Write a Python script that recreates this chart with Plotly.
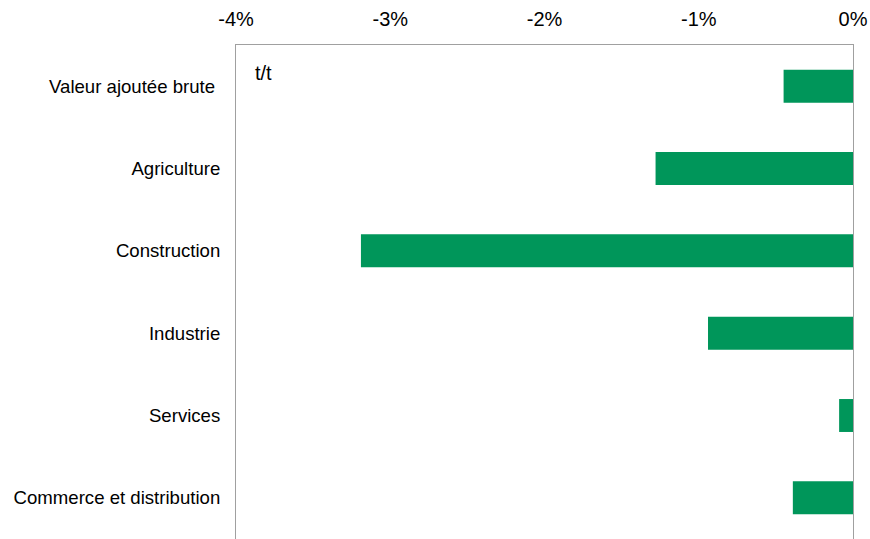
import plotly.graph_objects as go

categories = ["Valeur ajoutée brute ", "Agriculture", "Construction", "Industrie", "Services", "Commerce et distribution"]
values = [-0.45, -1.28, -3.19, -0.94, -0.09, -0.39]
tick_vals = [-4, -3, -2, -1, 0]
tick_text = ["-4%", "-3%", "-2%", "-1%", "0%"]

fig = go.Figure(go.Bar(
    y=categories, x=values, orientation="h",
    marker=dict(color="#00965A", line=dict(width=0)),
    width=0.4,
))

fig.update_layout(
    width=870, height=539,
    margin=dict(l=236, r=17, t=45, b=0),
    paper_bgcolor="white", plot_bgcolor="white",
    font=dict(family="Liberation Sans, Arial, sans-serif", size=18, color="black"),
    showlegend=False,
    xaxis=dict(
        side="top", range=[-4, 0], tickvals=tick_vals, ticktext=tick_text,
        showgrid=False, zeroline=False, showline=True, linecolor="#A0A0A0", linewidth=1,
        mirror=False, ticks="", ticklabelstandoff=10, tickfont=dict(size=20),
    ),
    yaxis=dict(
        autorange="reversed", showgrid=False, zeroline=False, showline=True,
        linecolor="#A0A0A0", linewidth=1, mirror=True, ticks="",
        ticklabelstandoff=11, tickfont=dict(size=18.6),
    ),
    annotations=[dict(text="t/t", xref="paper", yref="paper", x=0.028, y=0.943,
                      xanchor="left", yanchor="middle", showarrow=False,
                      font=dict(size=20))],
)

fig.write_html(
    "out.html",
    config={"displayModeBar": False},
    post_script="document.body.style.margin='0';document.body.style.overflow='hidden';",
)
